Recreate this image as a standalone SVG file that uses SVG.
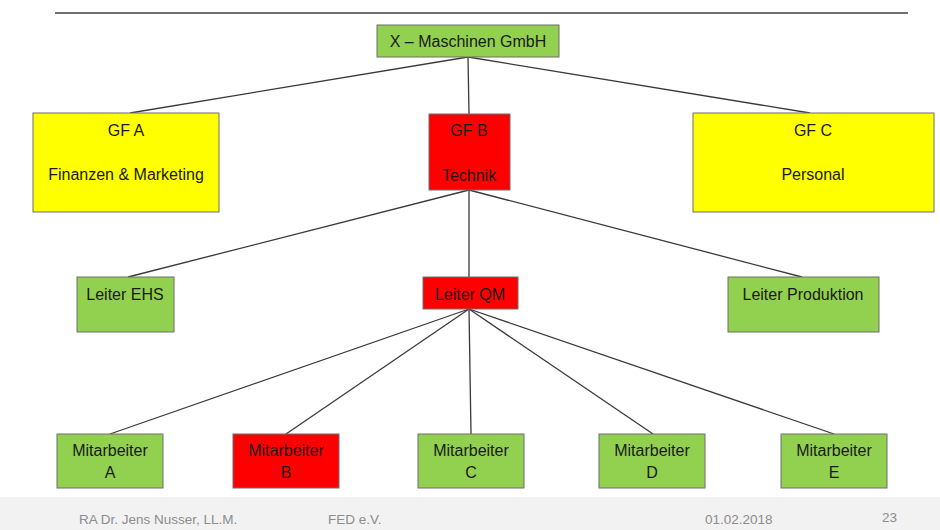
<svg xmlns="http://www.w3.org/2000/svg" width="940" height="530" viewBox="0 0 940 530">
<style>
.box{stroke:#6f6f6f;stroke-width:1}
.g{fill:#92d050}.y{fill:#ffff00}.r{fill:#ff0000}
.t{font-family:"Liberation Sans",Arial,sans-serif;font-size:16px;fill:#1a1a1a;text-anchor:middle}
.f{font-family:"Liberation Sans",Arial,sans-serif;font-size:13.5px;fill:#8c8c8c}
#connectors line{stroke:#3a3a3a;stroke-width:1.3}
</style>
<rect x="0" y="0" width="940" height="530" fill="#ffffff"/>
<line x1="55" y1="13" x2="908" y2="13" stroke="#404040" stroke-width="1.5"/>
<g id="connectors">
<line x1="468" y1="57" x2="130" y2="113"/>
<line x1="468" y1="57" x2="469" y2="114"/>
<line x1="468" y1="57" x2="810" y2="113"/>
<line x1="469" y1="190" x2="128" y2="277"/>
<line x1="469" y1="190" x2="469" y2="277"/>
<line x1="469" y1="190" x2="802" y2="277"/>
<line x1="469" y1="309" x2="110" y2="434"/>
<line x1="469" y1="309" x2="286" y2="434"/>
<line x1="469" y1="309" x2="471" y2="434"/>
<line x1="469" y1="309" x2="653" y2="434"/>
<line x1="469" y1="309" x2="834" y2="434"/>
</g>
<g id="top"><rect class="box g" x="377" y="25" width="182" height="32"/><text class="t" x="468" y="47">X – Maschinen GmbH</text></g>
<g id="gfa"><rect class="box y" x="33" y="113" width="186" height="99"/><text class="t" x="126" y="136">GF A</text><text class="t" x="126" y="180">Finanzen &amp; Marketing</text></g>
<g id="gfb"><rect class="box r" x="429" y="114" width="81" height="76"/><text class="t" x="469" y="136">GF B</text><text class="t" x="469" y="181">Technik</text></g>
<g id="gfc"><rect class="box y" x="693" y="113" width="241" height="99"/><text class="t" x="813" y="136">GF C</text><text class="t" x="813" y="180">Personal</text></g>
<g id="ehs"><rect class="box g" x="77" y="277" width="97" height="55"/><text class="t" x="125" y="300">Leiter EHS</text></g>
<g id="qm"><rect class="box r" x="423" y="277" width="95" height="32"/><text class="t" x="470" y="300">Leiter QM</text></g>
<g id="prod"><rect class="box g" x="728" y="277" width="151" height="55"/><text class="t" x="803" y="300">Leiter Produktion</text></g>
<g id="ma"><rect class="box g" x="57" y="434" width="106" height="54"/><text class="t" x="110" y="456">Mitarbeiter</text><text class="t" x="110" y="478">A</text></g>
<g id="mb"><rect class="box r" x="233" y="434" width="106" height="54"/><text class="t" x="286" y="456">Mitarbeiter</text><text class="t" x="286" y="478">B</text></g>
<g id="mc"><rect class="box g" x="418" y="434" width="106" height="54"/><text class="t" x="471" y="456">Mitarbeiter</text><text class="t" x="471" y="478">C</text></g>
<g id="md"><rect class="box g" x="599" y="434" width="106" height="54"/><text class="t" x="652" y="456">Mitarbeiter</text><text class="t" x="652" y="478">D</text></g>
<g id="me"><rect class="box g" x="781" y="434" width="106" height="54"/><text class="t" x="834" y="456">Mitarbeiter</text><text class="t" x="834" y="478">E</text></g>
<g id="footer">
<rect x="0" y="497" width="940" height="33" fill="#f2f2f2"/>
<text class="f" x="79" y="524">RA Dr. Jens Nusser, LL.M.</text>
<text class="f" x="328" y="524">FED e.V.</text>
<text class="f" x="705" y="524">01.02.2018</text>
<text class="f" x="882" y="522">23</text>
</g>
</svg>
